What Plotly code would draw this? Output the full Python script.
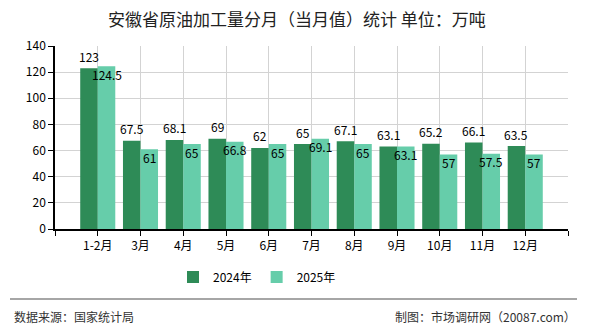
import plotly.graph_objects as go

categories = ["1-2月", "3月", "4月", "5月", "6月", "7月", "8月", "9月", "10月", "11月", "12月"]
values_2024 = [123, 67.5, 68.1, 69, 62, 65, 67.1, 63.1, 65.2, 66.1, 63.5]
values_2025 = [124.5, 61, 65, 66.8, 65, 69.1, 65, 63.1, 57, 57.5, 57]
series_names = ["2024年", "2025年"]
colors = ["#2E8B57", "#66CDAA"]
y_ticks = [0, 20, 40, 60, 80, 100, 120, 140]

W, H = 590, 330
L, R, T, B = 55, 22, 46, 101
pw, ph = W - L - R, H - T - B

def px_x(p):
    return (p - L) / pw

def px_y(p):
    return (H - B - p) / ph

positions = list(range(1, len(categories) + 1))
font_cn = "Noto Sans CJK SC, Noto Sans, sans-serif"

fig = go.Figure()
fig.add_trace(go.Bar(x=positions, y=values_2024, name=series_names[0],
                     marker=dict(color=colors[0], line=dict(width=0))))
fig.add_trace(go.Bar(x=positions, y=values_2025, name=series_names[1],
                     marker=dict(color=colors[1], line=dict(width=0))))

bargap = 0.18
half = (1 - bargap) / 4
annotations = []
for p, v in zip(positions, values_2024):
    annotations.append(dict(x=p - half, y=v, xref="x", yref="y", text=f"{v:g}",
                            showarrow=False, yshift=12, yanchor="middle",
                            font=dict(size=12, color="#000", family=font_cn)))
for p, v in zip(positions, values_2025):
    annotations.append(dict(x=p + half, y=v, xref="x", yref="y", text=f"{v:g}",
                            showarrow=False, yshift=-8, yanchor="middle",
                            font=dict(size=12, color="#000", family=font_cn)))

annotations.append(dict(x=px_x(297), y=px_y(18), xref="paper", yref="paper",
                        text="安徽省原油加工量分月（当月值）统计 单位：万吨", showarrow=False,
                        xanchor="center", yanchor="middle",
                        font=dict(size=17, color="#222", family=font_cn)))
annotations.append(dict(x=px_x(12), y=px_y(316), xref="paper", yref="paper",
                        text="数据来源：国家统计局", showarrow=False,
                        xanchor="left", yanchor="middle",
                        font=dict(size=12, color="#333", family=font_cn)))
annotations.append(dict(x=px_x(578), y=px_y(316), xref="paper", yref="paper",
                        text="制图：市场调研网（20087.com）", showarrow=False,
                        xanchor="right", yanchor="middle",
                        font=dict(size=12, color="#333", family=font_cn)))

shapes = [
    dict(type="line", xref="paper", yref="paper", x0=px_x(10), x1=px_x(577),
         y0=px_y(299), y1=px_y(299), line=dict(color="#888", width=1.5)),
]

fig.update_layout(
    width=W, height=H,
    margin=dict(l=L, r=R, t=T, b=B),
    paper_bgcolor="white", plot_bgcolor="white",
    barmode="group", bargap=bargap, bargroupgap=0,
    showlegend=True,
    legend=dict(orientation="h", x=px_x(257), xanchor="center", y=px_y(277), yanchor="middle",
                font=dict(size=12, color="#000", family=font_cn), itemwidth=30,
                tracegroupgap=0),
    annotations=annotations,
    shapes=shapes,
    font=dict(family=font_cn, size=12, color="#000"),
)
fig.update_xaxes(
    range=[0, len(categories) + 1],
    tickvals=[0] + positions + [len(categories) + 1],
    ticktext=[""] + categories + [""],
    showgrid=True, gridcolor="#d3d3d3", gridwidth=1,
    showline=True, linecolor="#000", linewidth=1.5,
    ticks="outside", ticklen=5, tickcolor="#000",
    tickfont=dict(size=12, color="#000", family=font_cn),
    zeroline=False, fixedrange=True,
)
fig.update_yaxes(
    range=[0, 140], tickvals=y_ticks,
    showgrid=True, gridcolor="#d3d3d3", gridwidth=1,
    showline=True, linecolor="#000", linewidth=1.5,
    ticks="outside", ticklen=5, tickcolor="#000",
    tickfont=dict(size=12, color="#000", family=font_cn),
    zeroline=False, fixedrange=True,
)

fig.write_html("out.html")
